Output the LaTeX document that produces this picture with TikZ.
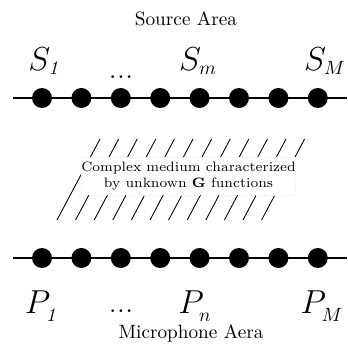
\documentclass[tikz,border=0pt]{standalone}
\newcommand{\slbl}[2]{$#1_{\scriptscriptstyle #2}$}
\newcommand{\plbl}[2]{$#1_{\lower1.6pt\hbox{$\scriptscriptstyle #2$}}$}
\begin{document}
\begin{tikzpicture}[x=0.52pt,y=-0.52pt,
  dotnode/.style={circle,fill=black,inner sep=0pt,minimum size=10.4pt},
  lbl/.style={font=\LARGE,anchor=base,inner sep=0pt},
  area/.style={font=\normalsize,anchor=base,inner sep=0pt},
  hatch/.style={line width=0.45pt},
  bar/.style={line width=1.25pt}]
\useasboundingbox (0,0) rectangle (347,352);
% source line
\coordinate (sL) at (13,98); \coordinate (sR) at (347,98);
\draw[bar] (sL) -- (sR);
\foreach \i in {1,...,8} \node[dotnode] (s\i) at ({42+39.4*(\i-1)},98) {};
% microphone line
\coordinate (pL) at (13,258); \coordinate (pR) at (347,258);
\draw[bar] (pL) -- (pR);
\foreach \i in {1,...,8} \node[dotnode] (p\i) at ({42+39.4*(\i-1)},258) {};
% hatching
\foreach \i in {0,...,11} {
  \coordinate (hb\i) at ({57+18.6*\i},220);
  \coordinate (ht\i) at ({100+18.6*\i},139);
  \draw[hatch] (hb\i) -- (ht\i);
}
\node[fill=white,draw=red!12,densely dotted,line width=0.3pt,inner sep=0pt,align=center,
  font=\fontsize{7.1}{8.3}\selectfont,minimum width=103.5pt,minimum height=19.8pt]
  (med) at (188.5,176) {Complex medium characterized\\by unknown \textbf{G} functions};
% labels
\node[area] (srcA) at (186,25) {Source Area};
\node[area] (micA) at (191,338) {Microphone Aera};
\node[lbl] (ls1) at (45,70) {\slbl{S}{\mathit{1}}};
\node[lbl] (lsd) at (121,78) {...};
\node[lbl] (lsm) at (198,70) {\slbl{S}{m}};
\node[lbl] (lsM) at (325,70) {\slbl{S}{M}};
\node[lbl] (lp1) at (42,313) {\plbl{P}{\mathit{1}}};
\node[lbl] (lpd) at (121,312) {...};
\node[lbl] (lpn) at (195,313) {\plbl{P}{n}};
\node[lbl] (lpM) at (322,313) {\plbl{P}{M}};
\end{tikzpicture}
\end{document}
